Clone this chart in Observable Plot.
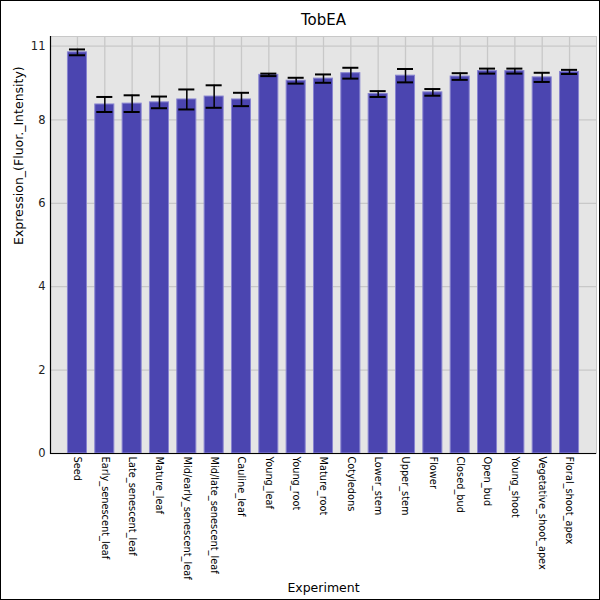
<!DOCTYPE html>
<html>
<head>
<meta charset="utf-8">
<script src="https://cdn.jsdelivr.net/npm/d3@7"></script>
<script src="https://cdn.jsdelivr.net/npm/@observablehq/plot@0.6"></script>
<style>
  html, body { margin: 0; padding: 0; background: #fff; }
  #chart svg { display: block; outline: 1px solid #000; outline-offset: -1px; font-family: "DejaVu Sans", sans-serif; }
</style>
</head>
<body>
<div id="chart"></div>
<script>
const categories = ["Seed","Early_senescent_leaf","Late_senescent_leaf","Mature_leaf","Mid/early_senescent_leaf","Mid/late_senescent_leaf","Cauline_leaf","Young_leaf","Young_root","Mature_root","Cotyledons","Lower_stem","Upper_stem","Flower","Closed_bud","Open_bud","Young_shoot","Vegetative_shoot_apex","Floral_shoot_apex"];
const values = [9.62, 8.37, 8.39, 8.42, 8.49, 8.56, 8.49, 9.08, 8.94, 8.99, 9.12, 8.62, 9.06, 8.66, 9.04, 9.17, 9.17, 9.02, 9.15];
const errors = [0.07, 0.18, 0.20, 0.14, 0.24, 0.27, 0.16, 0.03, 0.07, 0.10, 0.13, 0.07, 0.16, 0.08, 0.08, 0.06, 0.06, 0.11, 0.05];
const yTickValues = [0, 2, 4, 6, 8, 9.77];
const yTickLabels = ["0", "2", "4", "6", "8", "11"];
const title = "TobEA";
const xLabel = "Experiment";
const yLabel = "Expression_(Fluor._Intensity)";

const data = categories.map((c, i) => ({cat: c, v: values[i], lo: values[i] - errors[i], hi: values[i] + errors[i]}));
const gridColor = "#c8c8c8";

const chart = Plot.plot({
  width: 600,
  height: 600,
  marginLeft: 50,
  marginRight: 4,
  marginTop: 36,
  marginBottom: 147,
  style: {fontFamily: "DejaVu Sans, sans-serif", background: "#fff", overflow: "visible"},
  x: {domain: categories, paddingInner: 0.267, paddingOuter: 0.62, round: false, label: null},
  y: {domain: [0, 10], label: null},
  marks: [
    Plot.frame({fill: "#e5e5e5", stroke: gridColor}),
    Plot.gridX({stroke: gridColor, strokeOpacity: 1, strokeWidth: 1.3}),
    Plot.gridY(yTickValues, {stroke: gridColor, strokeOpacity: 1, strokeWidth: 1.3}),
    Plot.barY(data, {x: "cat", y: "v", fill: "#4b45b0", stroke: "#8884d0", strokeWidth: 1, insetLeft: 0.5, insetRight: 0.5}),
    Plot.ruleX(data, {x: "cat", y1: "lo", y2: "hi", stroke: "#000", strokeWidth: 1.5}),
    Plot.tickY(data, {x: "cat", y: "lo", stroke: "#000", strokeWidth: 2, insetLeft: 2, insetRight: 2}),
    Plot.tickY(data, {x: "cat", y: "hi", stroke: "#000", strokeWidth: 2, insetLeft: 2, insetRight: 2}),
    Plot.axisY(yTickValues, {tickSize: 0, tickPadding: 5, fontSize: 11.5, fill: "#222", tickFormat: (d, i) => yTickLabels[i], label: null}),
    Plot.axisX({tickSize: 0, tickPadding: 3, tickRotate: 90, fontSize: 9.8, fill: "#000", label: null}),
    Plot.frame({anchor: "left", stroke: "#000", strokeWidth: 1.2}),
    Plot.ruleY([0], {stroke: "#000", strokeWidth: 1.2}),
    Plot.text([title], {frameAnchor: "top", dy: -22, text: d => d, fontSize: 15, fill: "#000"}),
    Plot.text([xLabel], {frameAnchor: "bottom", dy: 138, text: d => d, fontSize: 12.5, fill: "#000"}),
    Plot.text([yLabel], {frameAnchor: "left", dx: -32, rotate: -90, text: d => d, fontSize: 12.5, fill: "#000"})
  ]
});
document.getElementById("chart").appendChild(chart);
</script>
</body>
</html>
